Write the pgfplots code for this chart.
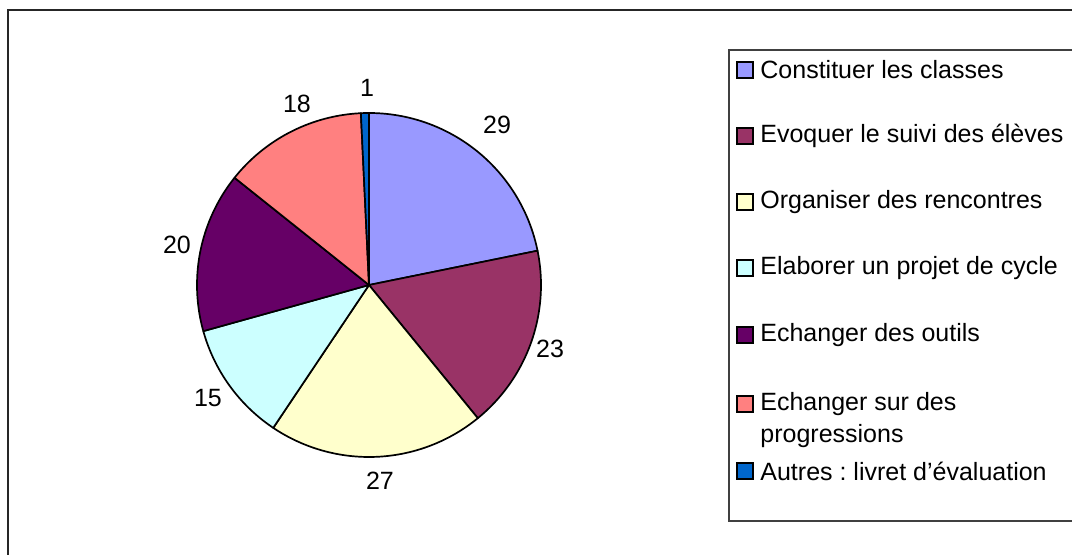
\documentclass[border=0pt]{standalone}
\usepackage{fontspec}
\setmainfont{Liberation Sans}
\usepackage{pgfplots}
\pgfplotsset{compat=1.18}
\frenchspacing

\definecolor{cA}{HTML}{9999FF}
\definecolor{cB}{HTML}{993366}
\definecolor{cC}{HTML}{FFFFCC}
\definecolor{cD}{HTML}{CCFFFF}
\definecolor{cE}{HTML}{660066}
\definecolor{cF}{HTML}{FF8080}
\definecolor{cG}{HTML}{0066CC}

% slice values, clockwise from 12 o'clock
\def\vA{29}\def\vB{23}\def\vC{27}\def\vD{15}\def\vE{20}\def\vF{18}\def\vG{1}
\pgfmathsetmacro\tot{\vA+\vB+\vC+\vD+\vE+\vF+\vG}
\pgfmathsetmacro\aA{90}
\pgfmathsetmacro\aB{\aA-360*\vA/\tot}
\pgfmathsetmacro\aC{\aB-360*\vB/\tot}
\pgfmathsetmacro\aD{\aC-360*\vC/\tot}
\pgfmathsetmacro\aE{\aD-360*\vD/\tot}
\pgfmathsetmacro\aF{\aE-360*\vE/\tot}
\pgfmathsetmacro\aG{\aF-360*\vF/\tot}
\pgfmathsetmacro\aH{\aG-360*\vG/\tot}
\def\cx{369}\def\cy{285}\def\r{172}

\newcommand\slice[3]{%
  \addplot[fill=#1, draw=black, line width=0.85pt, line join=round, domain=#2:#3, samples=80, variable=\t]
    ({\cx+\r*cos(\t)},{\cy-\r*sin(\t)}) -- (axis cs:\cx,\cy) -- cycle;}
\newcommand\legitem[3]{%
  \draw[black, line width=0.85pt, fill=#1] (axis cs:737,#2-8) rectangle (axis cs:753,#2+8);
  \node[anchor=west, inner sep=0pt] at (axis cs:760,#2) {#3};}

\begin{document}
\begin{tikzpicture}
\begin{axis}[hide axis, scale only axis, x=0.5pt, y=0.5pt, y dir=reverse,
  xmin=0, xmax=1072, ymin=0, ymax=555, clip=false, font=\fontsize{12.5pt}{14pt}\selectfont]
\coordinate (bl) at (axis cs:0,555);
\coordinate (tr) at (axis cs:1072,0);
\draw[black!85, line width=1pt] (axis cs:8,600) -- (axis cs:8,10) -- (axis cs:1100,10);
\slice{cA}{\aB}{\aA}
\slice{cB}{\aC}{\aB}
\slice{cC}{\aD}{\aC}
\slice{cD}{\aE}{\aD}
\slice{cE}{\aF}{\aE}
\slice{cF}{\aG}{\aF}
\slice{cG}{\aH}{\aG}
\node at (axis cs:497,125) {29};
\node at (axis cs:550,349) {23};
\node at (axis cs:380,481) {27};
\node at (axis cs:208,398) {15};
\node at (axis cs:177,245) {20};
\node at (axis cs:297,104) {18};
\node at (axis cs:367,88) {1};
\draw[black!75, line width=0.8pt] (axis cs:1100,50) -- (axis cs:729,50) -- (axis cs:729,521) -- (axis cs:1100,521);
\legitem{cA}{70}{Constituer les classes}
\legitem{cB}{136}{Evoquer le suivi des élèves}
\legitem{cC}{202}{Organiser des rencontres}
\legitem{cD}{268}{Elaborer un projet de cycle}
\legitem{cE}{335}{Echanger des outils}
\legitem{cF}{404}{Echanger sur des}
\node[anchor=west, inner sep=0pt] at (axis cs:760,436) {progressions};
\legitem{cG}{471}{Autres : livret d’évaluation}
\end{axis}
\pgfresetboundingbox
\useasboundingbox (bl) rectangle (tr);
\end{tikzpicture}
\end{document}
